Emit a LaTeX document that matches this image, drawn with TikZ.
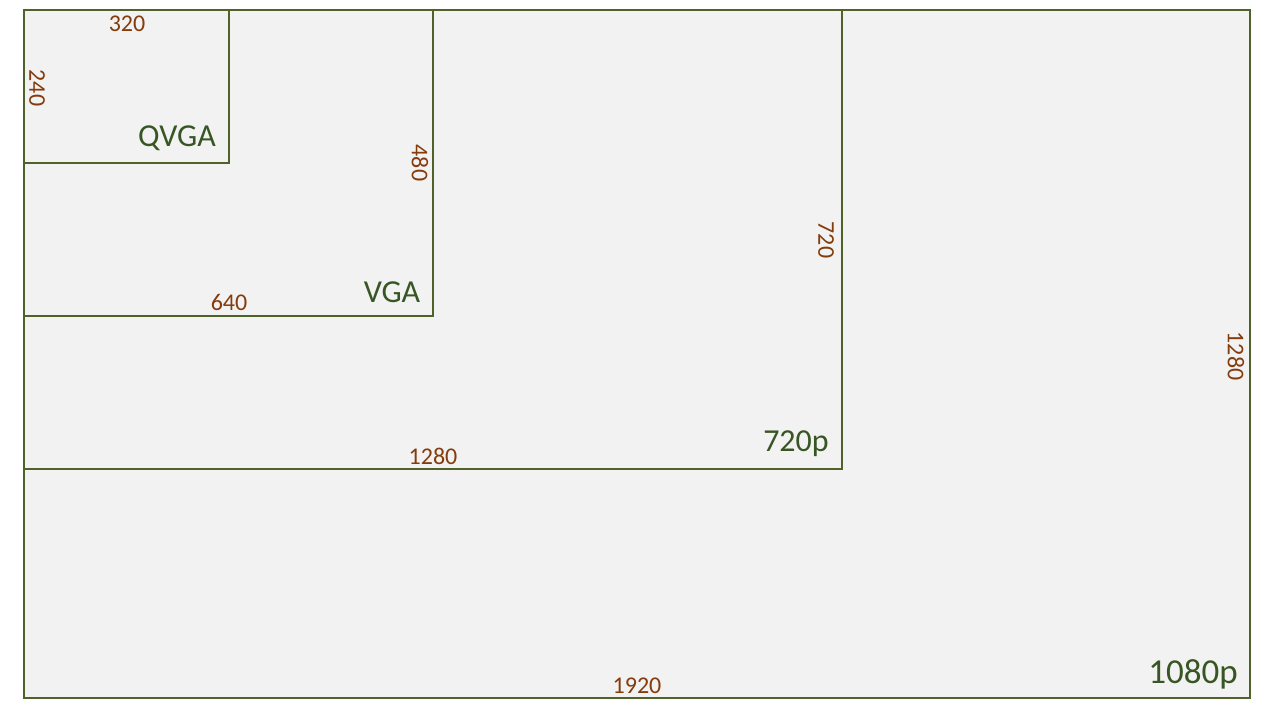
\documentclass[tikz,border=0pt]{standalone}
\usepackage{fontspec}
\setmainfont{Carlito}
\definecolor{framegreen}{HTML}{4F6228}
\definecolor{labgreen}{HTML}{375623}
\definecolor{dimbrown}{HTML}{843C0C}
\definecolor{panel}{HTML}{F2F2F2}
\begin{document}
\begin{tikzpicture}[x=1pt,y=-1pt,
  frame/.style={draw=framegreen,line width=1.5pt},
  dimlab/.style={text=dimbrown,font=\fontsize{24}{28}\selectfont,inner sep=0pt},
  reslab/.style={text=labgreen,inner sep=0pt}]
\useasboundingbox (0,0) rectangle (1280,710);
\fill[panel] (24,10) rectangle (1250,698);
\draw[frame] (24,10) rectangle (1250,698);
\draw[frame] (24,10) rectangle (842,469);
\draw[frame] (24,10) rectangle (433,316);
\draw[frame] (24,10) rectangle (229,163);
% QVGA
\node[dimlab] (w320) at (127,24) {320};
\node[dimlab,rotate=-90] (h240) at (37,88) {240};
\node[reslab,font=\fontsize{32}{38}\selectfont] (qvga) at (177,138) {QVGA};
% VGA
\node[dimlab,rotate=-90] (h480) at (420,163) {480};
\node[dimlab] (w640) at (229,302) {640};
\node[reslab,font=\fontsize{32}{38}\selectfont] (vga) at (392,292) {VGA};
% 720p
\node[dimlab,rotate=-90] (h720) at (826,240) {720};
\node[dimlab] (w1280) at (433,456) {1280};
\node[reslab,font=\fontsize{32}{38}\selectfont] (p720) at (796,444) {720p};
% 1080p
\node[dimlab,rotate=-90] (h1280) at (1236,356) {1280};
\node[dimlab] (w1920) at (637,686) {1920};
\node[reslab,font=\fontsize{35}{42}\selectfont] (p1080) at (1193,674) {1080p};
\end{tikzpicture}
\end{document}
